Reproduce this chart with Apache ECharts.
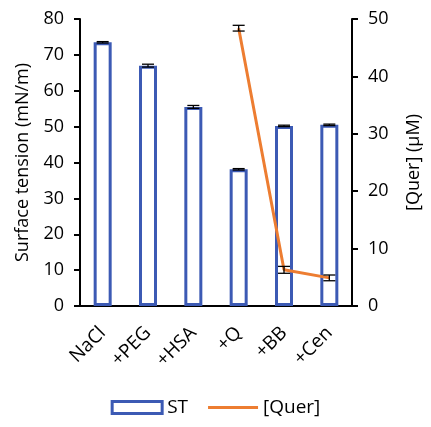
<!DOCTYPE html>
<html>
<head>
	<meta charset="utf-8" />
	<title>Surface tension</title>
	<script src="https://cdn.jsdelivr.net/npm/echarts@6/dist/echarts.min.js"></script>
	<style>
		html, body {margin:0;padding:0;background:#fff;}
		#chart {width:431px;height:427px;}
	</style>
</head>
<body>
	<div id="chart"></div>
	<script>
		var categories = ['NaCl', '+PEG', '+HSA', '+Q', '+BB', '+Cen'];
		var stValues = [73.5, 67.0, 55.5, 38.1, 50.2, 50.5];   // surface tension
		var stErr    = [0.2, 0.4, 0.4, 0.2, 0.2, 0.2];
		var querValues = [null, null, null, 48.4, 6.3, 4.9];  // [Quer] µM
		var querErr    = [null, null, null, 0.5, 0.6, 0.5];

		var font = 'Open Sans';
		var blue = '#3C5AB4';
		var orange = '#ED7D31';
		var chart = echarts.init(document.getElementById('chart'));

		function errBar(params, api) {
			var x = api.value(0);
			var lo = api.coord([x, api.value(1)]);
			var hi = api.coord([x, api.value(2)]);
			var w = 6;
			var style = {stroke: '#000', lineWidth: 1.3};
			return {
				type: 'group',
				children: [
					{type: 'line', shape: {x1: lo[0], y1: lo[1], x2: hi[0], y2: hi[1]}, style: style},
					{type: 'line', shape: {x1: lo[0] - w, y1: lo[1], x2: lo[0] + w, y2: lo[1]}, style: style},
					{type: 'line', shape: {x1: hi[0] - w, y1: hi[1], x2: hi[0] + w, y2: hi[1]}, style: style}
				]
			};
		}

		var stErrData = stValues.map((v, i) => [i, v - stErr[i], v + stErr[i]]);
		var querErrData = [];
		querValues.forEach((v, i) => {
			if (v != null) querErrData.push([i, v - querErr[i], v + querErr[i]]);
		});

		var axisText = {color: '#000', fontSize: 18, fontFamily: font};
		var nameText = {fontSize: 18, color: '#000', fontFamily: font};

		var option = {
			animation: false,
			textStyle: {fontFamily: font},
			grid: {left: 80, right: 71, top: 19, bottom: 121},
			legend: {
				left: 'center',
				top: 393,
				itemWidth: 50,
				itemHeight: 12,
				itemGap: 20,
				textStyle: {fontSize: 19, color: '#000', fontFamily: font},
				data: [
					{name: 'ST', icon: 'rect', itemStyle: {color: '#fff', borderColor: blue, borderWidth: 3}},
					{name: '[Quer]', icon: 'path://M0,0 L50,0 L50,3 L0,3 Z', itemStyle: {color: orange, borderWidth: 0}}
				]
			},
			xAxis: {
				type: 'category',
				data: categories,
				axisLine: {lineStyle: {color: '#000', width: 2}},
				axisTick: {show: false},
				axisLabel: {rotate: 45, margin: 24, fontSize: 19, color: '#000', fontFamily: font}
			},
			yAxis: [
				{
					type: 'value',
					min: 0, max: 80, interval: 10,
					name: 'Surface tension (mN/m)',
					nameLocation: 'middle',
					nameRotate: 90,
					nameGap: 48,
					nameTextStyle: nameText,
					axisLine: {show: true, lineStyle: {color: '#000', width: 2}},
					axisTick: {show: true, length: 6, lineStyle: {color: '#000', width: 2}},
					axisLabel: Object.assign({margin: 16}, axisText),
					splitLine: {show: false}
				},
				{
					type: 'value',
					min: 0, max: 50, interval: 10,
					position: 'right',
					name: '[Quer] (µM)',
					nameLocation: 'middle',
					nameRotate: 90,
					nameGap: 53,
					nameTextStyle: nameText,
					axisLine: {show: true, lineStyle: {color: '#000', width: 2}},
					axisTick: {show: true, length: 6, lineStyle: {color: '#000', width: 2}},
					axisLabel: Object.assign({margin: 16}, axisText),
					splitLine: {show: false}
				}
			],
			series: [
				{
					name: 'ST',
					type: 'bar',
					data: stValues,
					barWidth: 18,
					itemStyle: {color: '#fff', borderColor: blue, borderWidth: 3}
				},
				{
					type: 'custom',
					renderItem: errBar,
					data: stErrData,
					yAxisIndex: 0,
					z: 5
				},
				{
					name: '[Quer]',
					type: 'line',
					yAxisIndex: 1,
					data: querValues,
					symbol: 'none',
					connectNulls: false,
					lineStyle: {color: orange, width: 3},
					itemStyle: {color: orange},
					z: 4
				},
				{
					type: 'custom',
					renderItem: errBar,
					data: querErrData,
					yAxisIndex: 1,
					z: 6
				}
			]
		};

		chart.setOption(option);
	</script>
</body>
</html>
